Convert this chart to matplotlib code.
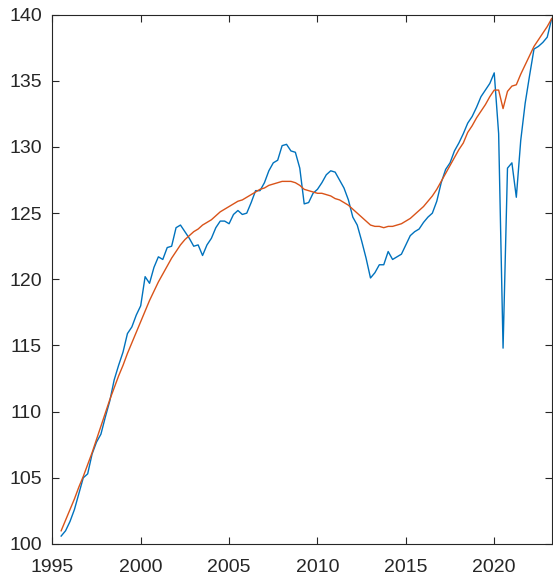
import numpy as np
import matplotlib
matplotlib.use("Agg")
import matplotlib.pyplot as plt

# quarterly series, first point at 1995.5, step 0.25
t_start = 1995.5
actual = [100.6, 101.0, 101.7, 102.6, 103.8, 105.0, 105.3, 106.8, 107.7, 108.3,
          109.6, 110.8, 112.4, 113.5, 114.5, 115.9, 116.4, 117.3, 118.0, 120.2,
          119.7, 120.9, 121.7, 121.5, 122.4, 122.5, 123.9, 124.1, 123.6, 123.1,
          122.5, 122.6, 121.8, 122.6, 123.1, 123.9, 124.4, 124.4, 124.2, 124.9,
          125.2, 124.9, 125.0, 125.8, 126.7, 126.7, 127.3, 128.2, 128.8, 129.0,
          130.1, 130.2, 129.7, 129.6, 128.4, 125.7, 125.8, 126.5, 126.8, 127.3,
          127.9, 128.2, 128.1, 127.5, 126.9, 126.0, 124.7, 124.1, 122.9, 121.6,
          120.1, 120.5, 121.1, 121.1, 122.1, 121.5, 121.7, 121.9, 122.6, 123.3,
          123.6, 123.8, 124.3, 124.7, 125.0, 125.9, 127.3, 128.3, 128.8, 129.7,
          130.3, 131.0, 131.8, 132.3, 133.0, 133.8, 134.3, 134.8, 135.6, 131.0,
          114.8, 128.4, 128.8, 126.2, 130.5, 133.3, 135.4, 137.4, 137.6, 137.9,
          138.3, 139.7]
trend = [101.0, 101.8, 102.6, 103.4, 104.3, 105.1, 106.0, 106.9, 107.9, 108.9,
         109.9, 110.9, 111.8, 112.7, 113.5, 114.4, 115.2, 116.0, 116.8, 117.6,
         118.4, 119.1, 119.8, 120.4, 121.0, 121.6, 122.1, 122.6, 123.0, 123.3,
         123.6, 123.8, 124.1, 124.3, 124.5, 124.8, 125.1, 125.3, 125.5, 125.7,
         125.9, 126.0, 126.2, 126.4, 126.6, 126.8, 126.9, 127.1, 127.2, 127.3,
         127.4, 127.4, 127.4, 127.3, 127.1, 126.8, 126.7, 126.6, 126.5, 126.5,
         126.4, 126.3, 126.1, 126.0, 125.8, 125.6, 125.3, 125.0, 124.7, 124.4,
         124.1, 124.0, 124.0, 123.9, 124.0, 124.0, 124.1, 124.2, 124.4, 124.6,
         124.9, 125.2, 125.5, 125.9, 126.3, 126.8, 127.4, 128.0, 128.6, 129.2,
         129.8, 130.3, 131.1, 131.6, 132.2, 132.7, 133.2, 133.8, 134.3, 134.3,
         132.9, 134.2, 134.6, 134.7, 135.5, 136.2, 136.9, 137.6, 138.1, 138.6,
         139.1, 139.7]
xticks = [1995, 2000, 2005, 2010, 2015, 2020]
yticks = [100, 105, 110, 115, 120, 125, 130, 135, 140]

t = t_start + 0.25 * np.arange(len(actual))

plt.rcParams['font.family'] = ['Liberation Sans', 'DejaVu Sans']
fig = plt.figure(figsize=(5.53, 5.83), dpi=100)
ax = fig.add_axes([0.0946, 0.0669, 0.903, 0.908])
ax.plot(t, actual, color="#0072BD", lw=1.0)
ax.plot(t, trend, color="#D95319", lw=1.0)

ax.set_xlim(1995, t[-1])
ax.set_ylim(100, 140)
ax.set_xticks(xticks)
ax.set_yticks(yticks)
ax.tick_params(direction="in", top=True, right=True, length=5, width=0.8,
               colors="#262626", labelsize=14)
ax.tick_params(axis="x", pad=10.5)
ax.tick_params(axis="y", pad=7.5)
for s in ax.spines.values():
    s.set_color("#262626")
    s.set_linewidth(0.8)

plt.savefig("out.png", dpi=100)
